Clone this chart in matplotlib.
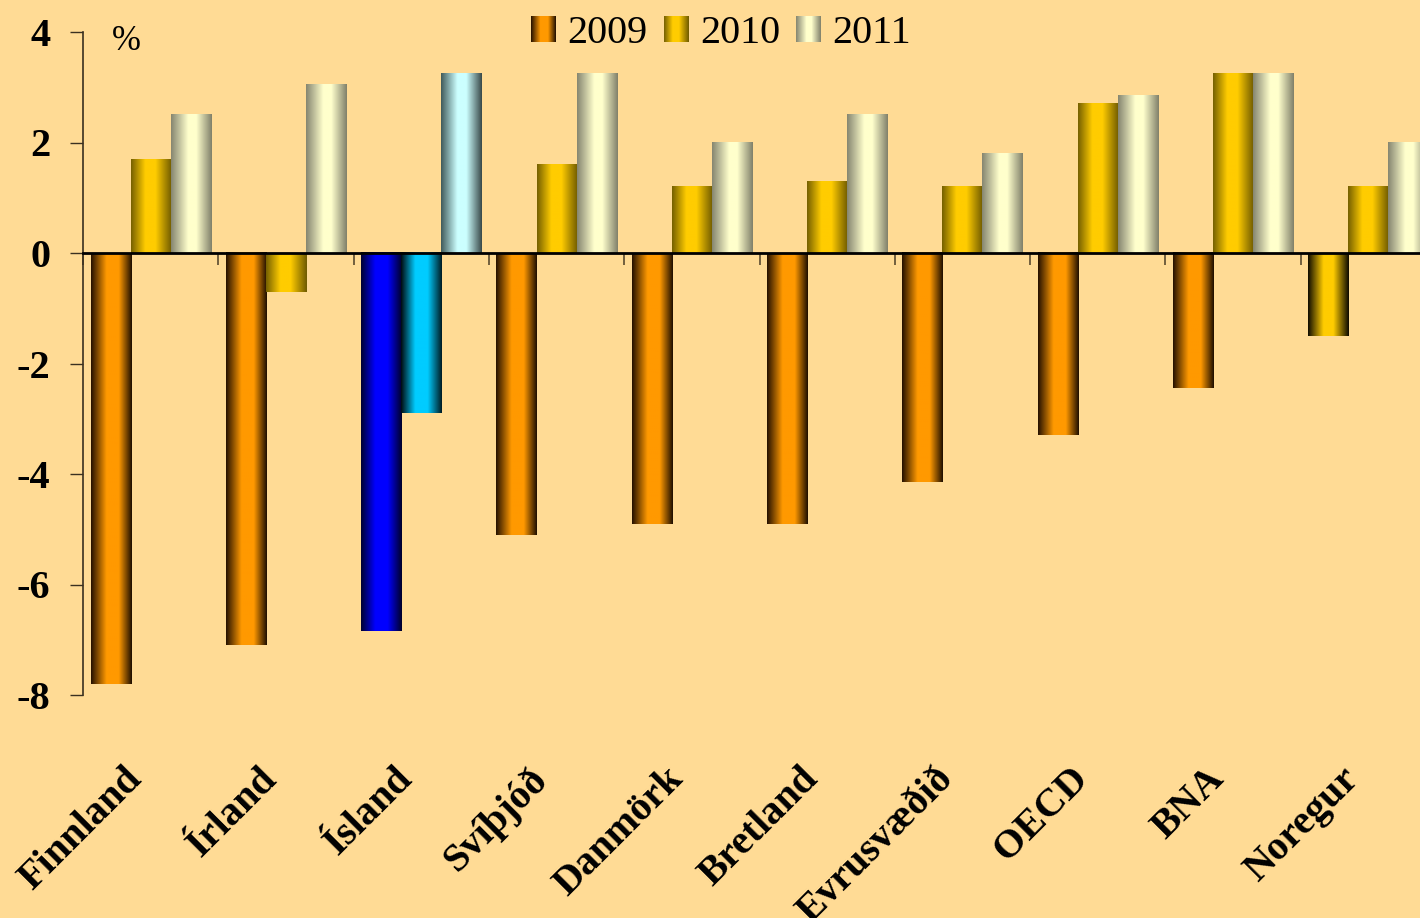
import numpy as np
import matplotlib
matplotlib.use("Agg")
import matplotlib.pyplot as plt
from matplotlib.colors import LinearSegmentedColormap
from matplotlib.patches import Rectangle
from matplotlib.legend_handler import HandlerBase
from matplotlib.image import BboxImage
from matplotlib.transforms import Bbox, TransformedBbox

# Hagvöxtur, %
categories = ["Finnland", "Írland", "Ísland", "Svíþjóð", "Danmörk",
              "Bretland", "Evrusvæðið", "OECD", "BNA", "Noregur"]
years = ["2009", "2010", "2011"]
v2009 = [-7.8, -7.1, -6.85, -5.1, -4.9, -4.9, -4.15, -3.3, -2.45, -1.5]
v2010 = [1.7, -0.7, -2.9, 1.6, 1.2, 1.3, 1.2, 2.7, 3.25, 1.2]
v2011 = [2.5, 3.05, 3.25, 3.25, 2.0, 2.5, 1.8, 2.85, 3.25, 2.0]

BG = "#FFDB95"

# gradient profiles (left edge -> centre -> right edge)
STYLES = {
    "orange": [(0, "#241000"), (0.38, "#FF9900"), (0.68, "#FF9900"), (1, "#1e0e00")],
    "gold": [(0, "#756000"), (0.35, "#FFCC00"), (0.6, "#FFCC00"), (1, "#6e5a00")],
    "gold_dark": [(0, "#100c00"), (0.38, "#FFCC00"), (0.62, "#FFCC00"), (1, "#0c0900")],
    "cream": [(0, "#858570"), (0.42, "#FFFFCC"), (0.62, "#FFFFCC"), (1, "#80806a")],
    "blue": [(0, "#000030"), (0.35, "#0000FF"), (0.65, "#0000FF"), (1, "#000028")],
    "cyan": [(0, "#000a10"), (0.35, "#00CCFF"), (0.65, "#00CCFF"), (1, "#001a22")],
    "lightcyan": [(0, "#405a5a"), (0.4, "#CCFFFF"), (0.62, "#CCFFFF"), (1, "#384848")],
}
CMAPS = {k: LinearSegmentedColormap.from_list(k, v) for k, v in STYLES.items()}

series_style = ["orange", "gold", "cream"]
# bars that are coloured differently in the original
special = {("Ísland", 0): "blue", ("Ísland", 1): "cyan", ("Ísland", 2): "lightcyan",
           ("Noregur", 0): "gold_dark"}

GRAD = np.linspace(0, 1, 256).reshape(1, -1)


class GradientHandler(HandlerBase):
    def __init__(self, cmap):
        super().__init__()
        self.cmap = cmap

    def create_artists(self, legend, orig_handle, xdescent, ydescent,
                       width, height, fontsize, trans):
        bb = TransformedBbox(Bbox.from_bounds(-xdescent, -ydescent, width, height), trans)
        img = BboxImage(bb, cmap=self.cmap, interpolation="bilinear")
        img.set_data(GRAD)
        return [img]


plt.rcParams["font.family"] = ["Liberation Serif", "DejaVu Serif"]
plt.rcParams["axes.unicode_minus"] = False

fig = plt.figure(figsize=(14.2, 9.18), dpi=100, facecolor=BG)
ax = fig.add_axes([83 / 1420, 223 / 918, 1353 / 1420, 663 / 918])
ax.set_facecolor(BG)

x = np.arange(len(categories))
width = 0.296
all_vals = [v2009, v2010, v2011]
for s, vals in enumerate(all_vals):
    bars = ax.bar(x + (s - 1) * width, vals, width, color="none", edgecolor="none", zorder=2)
    for i, patch in enumerate(bars.patches):
        style = special.get((categories[i], s), series_style[s])
        x0, y0 = patch.get_x(), patch.get_y()
        w, h = patch.get_width(), patch.get_height()
        ax.imshow(GRAD, cmap=CMAPS[style], aspect="auto", interpolation="bilinear",
                  extent=[x0, x0 + w, min(y0, y0 + h), max(y0, y0 + h)], zorder=2)

ax.set_xlim(-0.5, len(categories) - 0.5)
ax.set_ylim(-8, 4)

# axes styling
for side in ["top", "right"]:
    ax.spines[side].set_visible(False)
ax.spines["left"].set_color("#3a3020")
ax.spines["left"].set_linewidth(1.2)
ax.spines["bottom"].set_position(("data", 0))
ax.spines["bottom"].set_color("black")
ax.spines["bottom"].set_linewidth(2)
ax.spines["bottom"].set_zorder(3)

ax.set_yticks(np.arange(-8, 5, 2))
ax.tick_params(axis="y", direction="out", length=9.5, width=1, color="#3a3020",
               pad=14, labelsize=29)
for lab in ax.get_yticklabels():
    lab.set_fontweight("bold")

ax.set_xticks(np.arange(-0.5, len(categories) - 0.5, 1.0))
ax.tick_params(axis="x", direction="out", length=8.5, width=1.2, color="#5a4a30",
               labelbottom=False)

for i, name in enumerate(categories):
    ax.annotate(name, xy=(x[i], -8), xycoords="data", xytext=(-20, -47),
                textcoords="offset points", ha="right", va="top", rotation=45,
                rotation_mode="anchor", fontsize=29, fontweight="bold")

ax.text(0.021, 0.985, "%", transform=ax.transAxes, ha="left", va="center", fontsize=25)

handles = [Rectangle((0, 0), 1, 1) for _ in years]
hmap = {h: GradientHandler(CMAPS[st]) for h, st in zip(handles, series_style)}
fig.legend(handles, years, handler_map=hmap, loc="center",
           bbox_to_anchor=(0.508, 0.963), bbox_transform=fig.transFigure,
           ncol=3, frameon=False, fontsize=29, handlelength=0.6, handleheight=0.6,
           handletextpad=0.3, columnspacing=0.4, borderpad=0)

fig.savefig("out.png", dpi=100, facecolor=BG)
